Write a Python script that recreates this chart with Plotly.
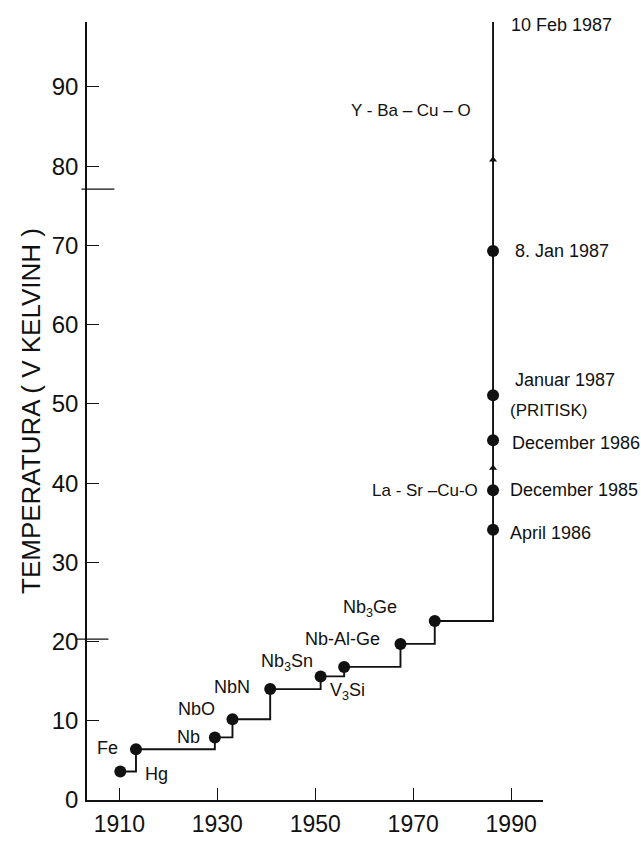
import plotly.graph_objects as go

# Record critical temperatures of superconductors, year of discovery vs Tc (K)
years = [1910.2, 1913.4, 1929.5, 1933.1, 1940.8, 1951.1, 1955.9, 1967.4, 1974.4,
         1986.3, 1986.3, 1986.3, 1986.3, 1986.3]
tc = [3.6, 6.4, 7.9, 10.2, 14.0, 15.6, 16.8, 19.7, 22.6,
      34.1, 39.1, 45.4, 51.1, 69.3]
top_year, top_tc = 1986.3, 98.2          # end of the record line
arrow_tc = [41.9, 80.8]                   # arrowheads on the vertical rise
ref_levels = [20.3, 77.1]                 # liquid hydrogen / liquid nitrogen marks

material_labels = ["Hg", "Fe", "Nb", "NbO", "NbN", "Nb<sub>3</sub>Sn",
                   "V<sub>3</sub>Si", "Nb-Al-Ge", "Nb<sub>3</sub>Ge"]
date_labels = ["April 1986", "December 1985", "December 1986",
               "Januar 1987", "8. Jan 1987"]
extra_labels = {"La": "La - Sr –Cu-O", "pritisk": "(PRITISK)",
                "yba": "Y - Ba – Cu – O", "feb": "10 Feb 1987"}

x_ticks = [1910, 1930, 1950, 1970, 1990]
y_ticks = [0, 10, 20, 30, 40, 50, 60, 70, 80, 90]

FONT = "Liberation Sans, Arial, sans-serif"
INK = "#111111"

fig = go.Figure()

# stepped record line, continuing up to the February 1987 result
fig.add_trace(go.Scatter(
    x=years + [top_year], y=tc + [top_tc],
    mode="lines", line=dict(color=INK, width=1.9, shape="hv"),
    hoverinfo="skip", showlegend=False))

fig.add_trace(go.Scatter(
    x=years, y=tc, mode="markers",
    marker=dict(size=12, color=INK, line=dict(width=0)),
    showlegend=False))

fig.add_trace(go.Scatter(
    x=[top_year] * len(arrow_tc), y=arrow_tc, mode="markers",
    marker=dict(symbol="triangle-up", size=7, color=INK),
    showlegend=False))

# long marks across the axis at the reference temperatures
for lvl, x0, x1 in zip(ref_levels, [-0.025, -0.012], [0.047, 0.06]):
    fig.add_shape(type="line", xref="paper", yref="y", x0=x0, x1=x1,
                  y0=lvl, y1=lvl, line=dict(color=INK, width=1.2))

annotations = []
# (point index, xanchor, xshift, yshift)
mat_pos = [(0, "left", 23, -3), (1, "right", -16, 1), (2, "right", -13, 0),
           (3, "right", -15, 10), (4, "right", -18, 2), (5, "right", -6, 14),
           (6, "center", 3, -25), (7, "right", -18, 5), (8, "right", -36, 12)]
for text, (i, xa, xs, ys) in zip(material_labels, mat_pos):
    annotations.append(dict(x=years[i], y=tc[i], text=text, showarrow=False,
                            xanchor=xa, yanchor="middle", xshift=xs, yshift=ys,
                            font=dict(size=18, family=FONT, color=INK)))

date_pos = [(9, 15, -3), (10, 15, 0), (11, 17, -3), (12, 20, 15), (13, 20, 0)]
for text, (i, xs, ys) in zip(date_labels, date_pos):
    annotations.append(dict(x=years[i], y=tc[i], text=text, showarrow=False,
                            xanchor="left", yanchor="middle", xshift=xs, yshift=ys,
                            font=dict(size=18, family=FONT, color=INK)))

annotations += [
    dict(x=years[10], y=tc[10], text=extra_labels["La"], showarrow=False,
         xanchor="right", yanchor="middle", xshift=-13, yshift=0,
         font=dict(size=17, family=FONT, color=INK)),
    dict(x=years[12], y=tc[12], text=extra_labels["pritisk"], showarrow=False,
         xanchor="left", yanchor="middle", xshift=15, yshift=-15,
         font=dict(size=17, family=FONT, color=INK)),
    dict(x=top_year, y=top_tc, text=extra_labels["yba"], showarrow=False,
         xanchor="right", yanchor="middle", xshift=-20, yshift=-88,
         font=dict(size=17, family=FONT, color=INK)),
    dict(x=top_year, y=top_tc, text=extra_labels["feb"], showarrow=False,
         xanchor="left", yanchor="middle", xshift=16, yshift=-3,
         font=dict(size=18, family=FONT, color=INK)),
]

fig.update_layout(
    width=641, height=841,
    margin=dict(l=87, r=98, t=22, b=41),
    paper_bgcolor="white", plot_bgcolor="white",
    annotations=annotations,
    showlegend=False,
)

fig.update_xaxes(
    range=[1903.4, 1996.5], tickvals=x_ticks, ticktext=[str(v) for v in x_ticks],
    showgrid=False, zeroline=False, showline=True, linecolor=INK, linewidth=1.5,
    ticks="inside", ticklen=12, tickwidth=1.3, tickcolor=INK,
    ticklabelstandoff=3, automargin=False,
    tickfont=dict(size=23, family=FONT, color=INK))

fig.update_yaxes(
    range=[0, 98.2], tickvals=y_ticks, ticktext=[str(v) for v in y_ticks],
    showgrid=False, zeroline=False, showline=True, linecolor=INK, linewidth=1.5,
    ticks="inside", ticklen=12, tickwidth=1.3, tickcolor=INK,
    ticklabelstandoff=2, automargin=False,
    title=dict(text="TEMPERATURA ( V KELVINH )", standoff=4,
               font=dict(size=26, family=FONT, color=INK)),
    tickfont=dict(size=24, family=FONT, color=INK))

fig.write_html("out.html")
